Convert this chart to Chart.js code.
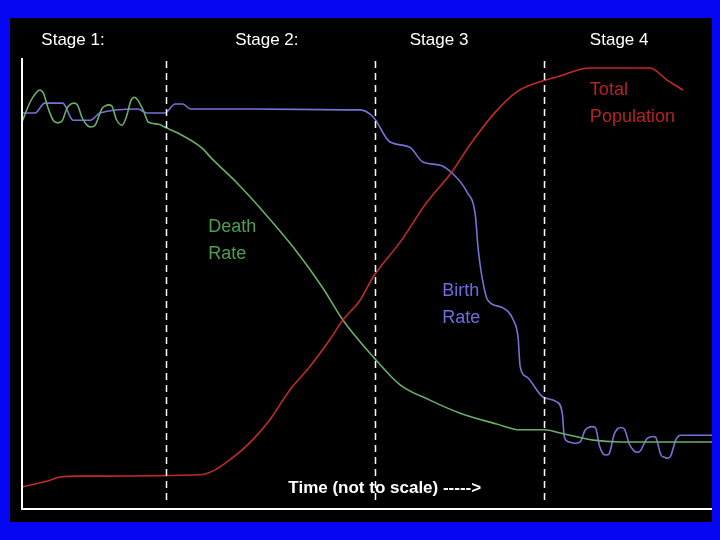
<!DOCTYPE html>
<html>
<head>
<meta charset="utf-8">
<script src="https://cdn.jsdelivr.net/npm/chart.js@4"></script>
<style>
  html, body { margin: 0; padding: 0; background: #0606f4; }
  canvas { display: block; }
</style>
</head>
<body>
<canvas id="chart" width="720" height="540"></canvas>
<script>
// demographic transition - time (0-100) vs relative level (0-100)
const stageLabels = ["Stage 1:", "Stage 2:", "Stage 3", "Stage 4"];
const stageLabelAt = [2.8, 30.9, 56.2, 82.3];
const stageBounds = [20.9, 51.2, 75.7];

const birthT = [0, 1.9, 3.3, 5.9, 7.4, 9.9, 11.3, 16.8, 18.1, 20.7, 22.2, 23.3, 24.4, 33.0, 46.8, 49.0,
  50.9, 53.3, 56.2, 58.1, 60.6, 62.3, 64.5, 65.7, 66.1, 66.8, 67.5, 69.7, 71.2, 71.9, 72.2, 73.2,
  75.5, 77.5, 78.3, 78.6, 79.3, 80.1, 80.9, 81.6, 82.1, 82.6, 83.1, 83.7, 84.2, 84.65, 85.1, 85.8,
  86.3, 86.8, 87.3, 88.0, 88.7, 89.15, 89.6, 90.5, 91.0, 91.4, 91.8, 92.6, 93.1, 93.5, 93.9, 94.8,
  95.5, 100];
const birthV = [88.0, 88.0, 90.2, 90.2, 86.4, 86.4, 88.0, 88.9, 88.0, 88.0, 90.0, 90.0, 88.9, 88.9, 88.7, 88.7,
  87.1, 81.6, 80.4, 77.1, 76.4, 74.7, 70.4, 65.3, 58.0, 50.4, 46.4, 44.7, 42.0, 38.0, 31.6, 29.3,
  24.9, 23.8, 21.3, 16.0, 14.9, 14.6, 14.9, 17.5, 18.1, 18.3, 18.1, 14.0, 12.3, 12.0, 12.3, 16.5,
  17.8, 18.1, 17.8, 14.5, 12.9, 12.6, 12.9, 15.5, 16.0, 16.1, 16.0, 12.0, 11.5, 11.3, 11.5, 15.5,
  16.4, 16.4];

const deathT = [0, 1.2, 2.0, 2.55, 3.1, 3.8, 4.6, 5.2, 5.8, 6.5, 7.0, 7.5, 8.0, 8.7, 9.5, 10.0,
  10.6, 11.6, 12.1, 12.55, 13.0, 13.7, 14.5, 15.1, 15.8, 16.3, 16.8, 17.6, 18.3, 19.8, 20.9,
  22.5, 26.1, 27.3, 31.2, 34.5, 39.3, 43.6, 46.5, 50.9, 54.8, 59.1, 63.5, 68.8, 72.2, 75.7,
  78.0, 82.8, 86.7, 100];
const deathV = [86.0, 90.5, 92.4, 93.1, 92.4, 89.0, 86.2, 85.8, 86.2, 89.0, 89.9, 90.2, 89.9, 87.0, 85.2, 84.9,
  85.3, 89.0, 89.6, 89.8, 89.6, 86.5, 85.3, 87.0, 90.8, 91.5, 90.8, 88.5, 86.0, 85.5, 84.7,
  83.6, 80.2, 78.2, 72.4, 66.9, 58.2, 49.1, 42.0, 33.8, 27.6, 24.2, 21.3, 18.9, 17.6, 17.6,
  16.9, 15.3, 14.9, 14.9];

const popT = [0, 4.1, 5.5, 8.4, 25.8, 28.0, 30.1, 33.0, 35.9, 38.8, 41.7, 44.6, 46.5, 49.0, 50.9, 54.8,
  58.7, 62.3, 64.9, 68.6, 71.7, 75.8, 77.5, 82.3, 91.0, 93.5, 95.8];
const popV = [4.9, 6.4, 7.1, 7.3, 7.6, 8.7, 10.9, 14.7, 19.8, 26.4, 31.6, 37.6, 42.0, 46.4, 51.6, 59.3,
  68.2, 74.9, 80.9, 88.2, 92.7, 95.3, 96.0, 98.0, 98.0, 95.3, 93.1];

const toPoints = (xs, ys) => xs.map((x, i) => ({ x: x, y: ys[i] }));

const decor = {
  id: "decor",
  beforeDraw(chart) {
    const ctx = chart.ctx;
    ctx.save();
    ctx.fillStyle = "#0606f4";
    ctx.fillRect(0, 0, chart.width, chart.height);
    ctx.fillStyle = "#000";
    ctx.fillRect(10, 18, 702, 504);
    ctx.restore();
  },
  afterDatasetsDraw(chart) {
    const ctx = chart.ctx, a = chart.chartArea;
    const xs = chart.scales.x, ys = chart.scales.y;
    ctx.save();
    // stage separators
    ctx.strokeStyle = "#fff";
    ctx.lineWidth = 1.5;
    ctx.setLineDash([7, 5]);
    stageBounds.forEach(b => {
      const px = Math.round(xs.getPixelForValue(b)) + 0.5;
      ctx.beginPath();
      ctx.moveTo(px, a.top + 2);
      ctx.lineTo(px, a.bottom - 6);
      ctx.stroke();
    });
    ctx.setLineDash([]);
    // axes
    ctx.lineWidth = 2;
    ctx.beginPath();
    ctx.moveTo(a.left, a.top - 1);
    ctx.lineTo(a.left, a.bottom);
    ctx.lineTo(a.right, a.bottom);
    ctx.stroke();
    // stage titles
    ctx.font = "17px 'Liberation Sans', Arial, sans-serif";
    ctx.fillStyle = "#fff";
    ctx.textBaseline = "middle";
    stageLabels.forEach((s, i) => {
      ctx.fillText(s, xs.getPixelForValue(stageLabelAt[i]), ys.getPixelForValue(104.2));
    });
    // series labels
    const label = (lines, t, v, color) => {
      ctx.fillStyle = color;
      lines.forEach((l, i) => ctx.fillText(l, xs.getPixelForValue(t), ys.getPixelForValue(v - i * 6)));
    };
    ctx.font = "18px 'Liberation Sans', Arial, sans-serif";
    label(["Death", "Rate"], 27.0, 62.7, "#4f9f4f");
    label(["Birth", "Rate"], 60.9, 48.4, "#6d6de0");
    label(["Total", "Population"], 82.3, 93.1, "#b62222");
    // time axis caption
    ctx.fillStyle = "#fff";
    ctx.font = "bold 17px 'Liberation Sans', Arial, sans-serif";
    ctx.fillText("Time (not to scale) ----->", xs.getPixelForValue(38.6), ys.getPixelForValue(4.7));
    ctx.restore();
  }
};

new Chart(document.getElementById("chart"), {
  type: "line",
  data: {
    datasets: [
      { label: "Total Population", data: toPoints(popT, popV), borderColor: "#c02a2a", borderWidth: 1.6 },
      { label: "Death Rate", data: toPoints(deathT, deathV), borderColor: "#6aae6a", borderWidth: 1.6 },
      { label: "Birth Rate", data: toPoints(birthT, birthV), borderColor: "#7373d6", borderWidth: 1.6 }
    ]
  },
  options: {
    responsive: false,
    animation: false,
    cubicInterpolationMode: "monotone",
    elements: { point: { radius: 0 } },
    layout: { padding: { left: 22, right: 8, top: 59, bottom: 31 } },
    plugins: { legend: { display: false }, tooltip: { enabled: false } },
    scales: {
      x: { type: "linear", min: 0, max: 100, display: false },
      y: { min: 0, max: 100, display: false }
    }
  },
  plugins: [decor]
});
</script>
</body>
</html>
